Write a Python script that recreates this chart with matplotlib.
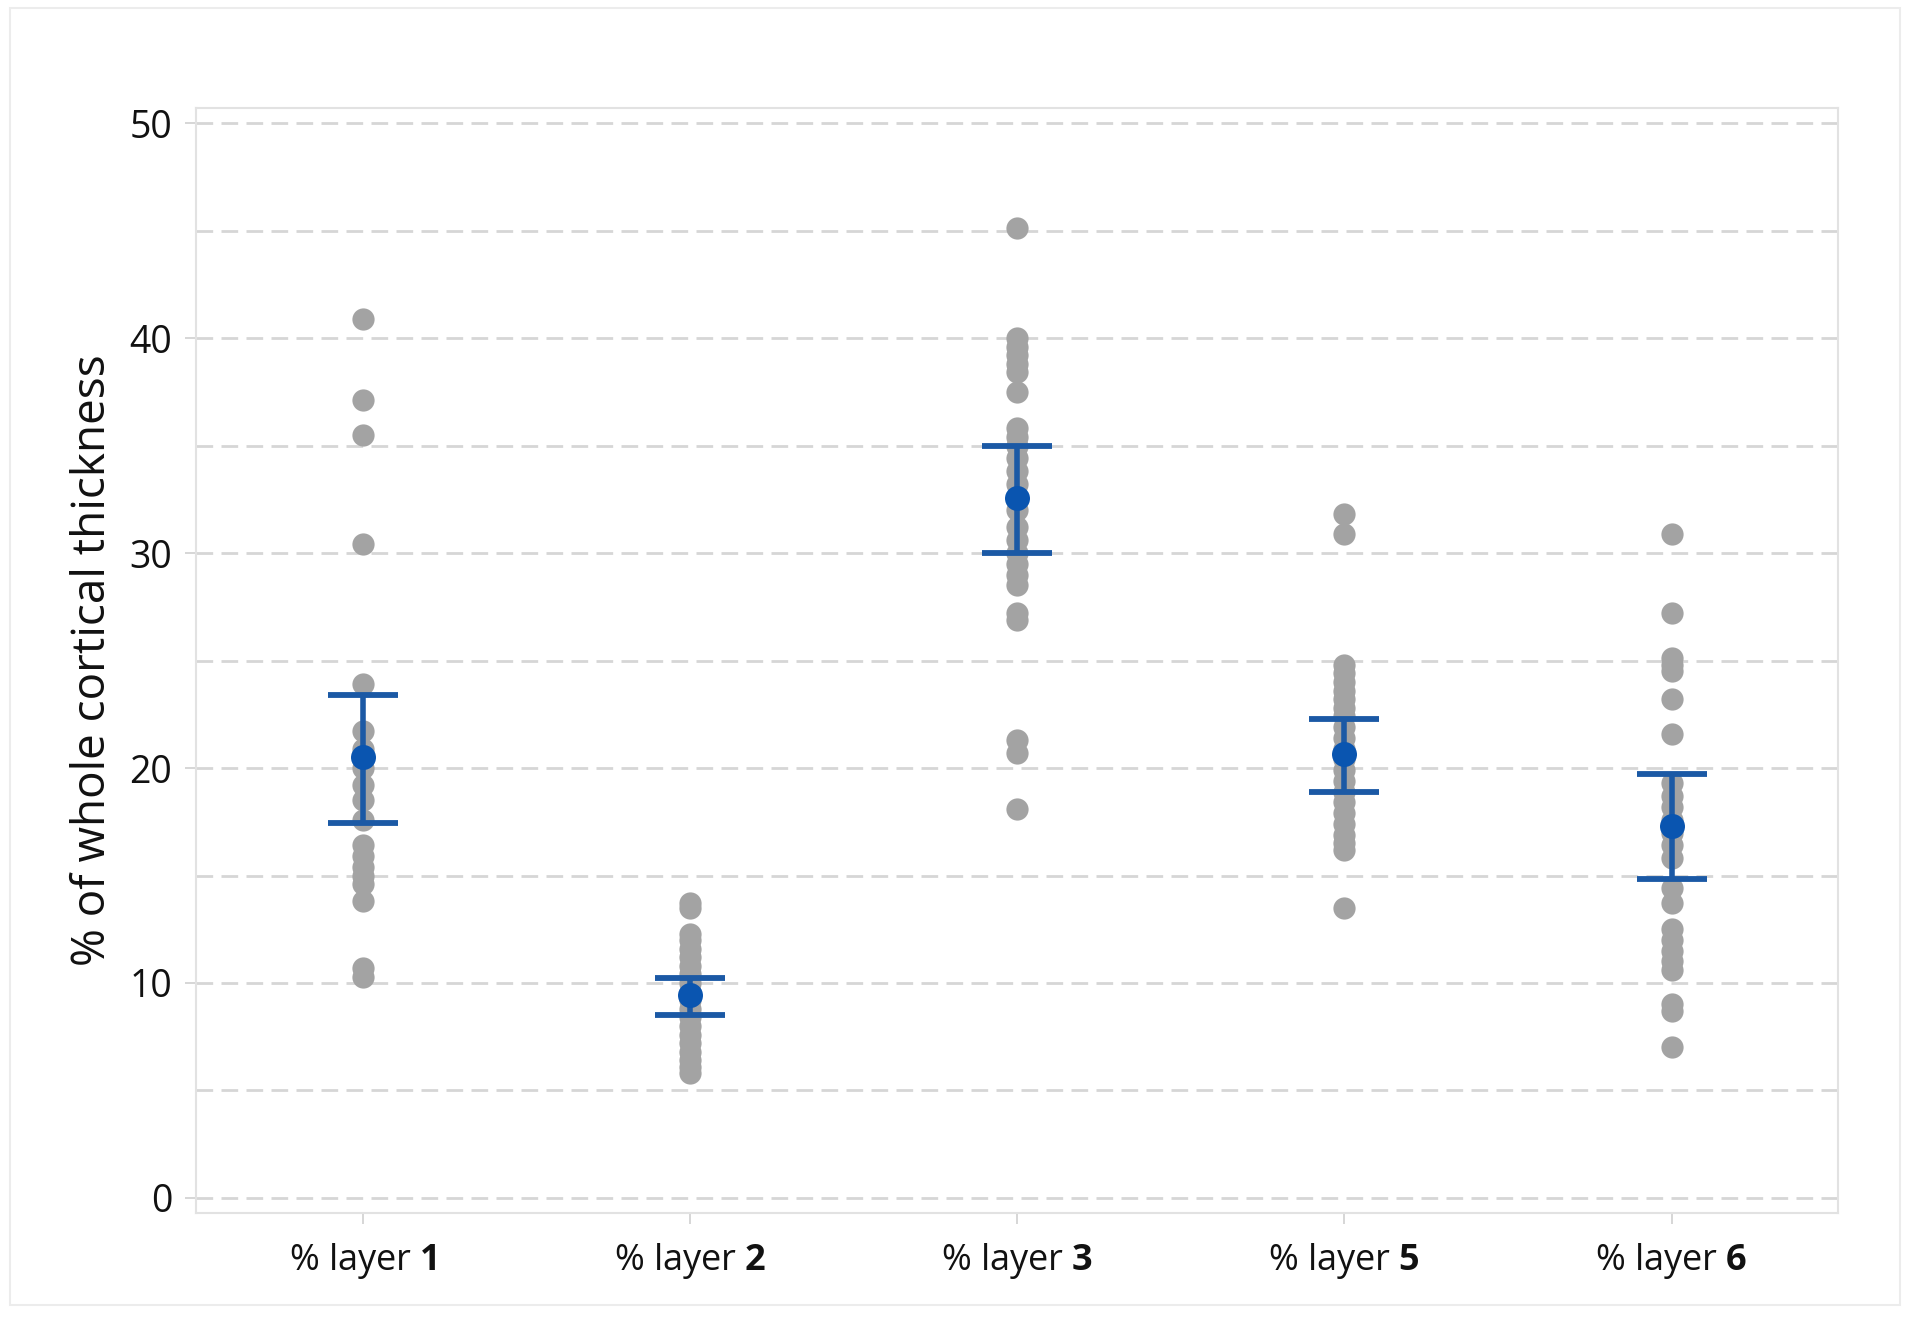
import matplotlib

matplotlib.use("Agg")
import matplotlib.pyplot as plt  # noqa: E402
from matplotlib.patches import Rectangle  # noqa: E402

# dane
categories = ["1", "2", "3", "5", "6"]
layer1 = [40.9, 37.1, 35.5, 30.4, 23.9, 21.7, 20.9, 20.0, 19.2, 18.5, 17.6,
          16.4, 15.9, 15.4, 15.0, 14.6, 13.8, 10.7, 10.3]
layer2 = [13.7, 13.5, 12.3, 12.0, 11.6, 11.2, 10.8, 10.4, 10.0, 9.6, 9.2,
          8.8, 8.4, 8.0, 7.6, 7.2, 6.8, 6.4, 6.1, 5.8]
layer3 = [45.1, 40.0, 39.6, 39.2, 38.8, 38.4, 37.5, 35.8, 35.4, 35.0, 34.4,
          33.8, 33.2, 32.0, 31.2, 30.6, 30.0, 29.5, 29.0, 28.5, 27.2, 26.9,
          21.3, 20.7, 18.1]
layer5 = [31.8, 30.9, 24.8, 24.4, 24.0, 23.6, 23.2, 22.8, 22.4, 21.9, 21.4,
          20.9, 20.4, 19.9, 19.4, 18.9, 18.4, 17.9, 17.4, 16.9, 16.5, 16.2,
          13.5]
layer6 = [30.9, 27.2, 25.1, 24.8, 24.5, 23.2, 21.6, 19.3, 18.7, 18.2, 17.6,
          17.0, 16.4, 15.8, 14.4, 13.7, 12.5, 12.0, 11.5, 11.0, 10.6, 9.0,
          8.7, 7.0]
series = [layer1, layer2, layer3, layer5, layer6]

means = [20.5, 9.45, 32.55, 20.65, 17.3]
ci_low = [17.45, 8.5, 30.0, 18.9, 14.85]
ci_high = [23.4, 10.25, 35.0, 22.3, 19.7]

yticks = [0, 10, 20, 30, 40, 50]

plt.rcParams["font.family"] = ["Open Sans", "DejaVu Sans"]
plt.rcParams["mathtext.fontset"] = "custom"
plt.rcParams["mathtext.bf"] = "Open Sans:bold"
plt.rcParams["mathtext.rm"] = "Open Sans"

fig = plt.figure(figsize=(19.21, 13.25), dpi=100)
ax = fig.add_axes([0.102, 0.0845, 0.855, 0.834])

# ramka wokół całego obrazka
fig.patches.append(Rectangle((0.005, 0.015), 0.984, 0.979, transform=fig.transFigure,
                             fill=False, edgecolor="#ececec", linewidth=1.5))

for i, vals in enumerate(series):
    ax.plot([i] * len(vals), vals, "o", color="#a3a3a3", markersize=16,
            markeredgewidth=0, zorder=2)

x = list(range(len(categories)))
yerr = [[m - lo for m, lo in zip(means, ci_low)],
        [hi - m for m, hi in zip(means, ci_high)]]
ax.errorbar(x, means, yerr=yerr, fmt="none", ecolor="#1b59a5", elinewidth=4,
            capsize=25, capthick=4.2, zorder=3)
ax.plot(x, means, "o", color="#0a55b0", markersize=18, markeredgewidth=0, zorder=4)

ax.set_xlim(-0.51, 4.51)
ax.set_ylim(-0.7, 50.7)

for g in range(0, 51, 5):
    ax.axhline(g, color="#d6d6d6", linewidth=2, linestyle=(0, (6, 3)), zorder=1)

ax.set_yticks(yticks)
ax.set_yticklabels([str(t) for t in yticks], fontsize=27, color="#111111")
ax.set_xticks(x)
ax.set_xticklabels([r"% layer $\mathbf{" + c + "}$" for c in categories],
                   fontsize=26, color="#111111")
ax.tick_params(axis="both", color="#cfcfcf", length=8, width=1.2)
ax.tick_params(axis="x", pad=12)
ax.tick_params(axis="y", pad=9)

ax.set_ylabel("% of whole cortical thickness", fontsize=33, color="#111111", labelpad=10)

for s in ax.spines.values():
    s.set_color("#e2e2e2")
    s.set_linewidth(1.5)

fig.savefig("out.png", dpi=100, facecolor="white")
